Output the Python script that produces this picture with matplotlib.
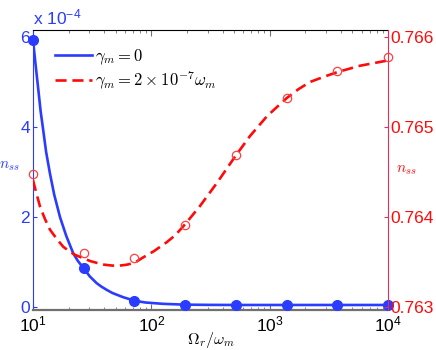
import numpy as np
import matplotlib
matplotlib.use("Agg")
import matplotlib.pyplot as plt
from matplotlib.ticker import LogLocator, NullFormatter

plt.rcParams['font.family'] = ['Liberation Sans', 'DejaVu Sans']
plt.rcParams['mathtext.fontset'] = 'cm'

# sample points (Omega_r / omega_m)
x_pts = [10, 26.8, 72.0, 193.1, 517.9, 1389.5, 3727.6, 10000]
# gamma_m = 0 (units of 1e-4)
blue_pts = [5.93, 0.87, 0.14, 0.055, 0.045, 0.045, 0.045, 0.045]
# gamma_m = 2e-7 omega_m
red_pts = [0.76448, 0.76360, 0.76354, 0.76391, 0.76469, 0.76532, 0.76562, 0.76578]

# continuous curves
blue_cx = [10, 10.5, 11.1, 11.6, 12.2, 12.9, 13.9, 15.1, 16.9, 19.1, 21.9, 24.0, 26.8, 30.2,
           34.5, 38.0, 42, 47, 57.5, 72, 89, 126, 193, 316, 518, 1389, 3728, 10000]
blue_cy = [5.93, 5.40, 4.82, 4.35, 3.93, 3.45, 2.97, 2.50, 2.00, 1.58, 1.19, 1.02, 0.86, 0.68,
           0.53, 0.45, 0.38, 0.31, 0.22, 0.14, 0.10, 0.07, 0.052, 0.047, 0.045, 0.045, 0.045, 0.045]

red_cx = [10, 10.7, 11.5, 12.6, 13.9, 15.8, 18, 20.2, 22.6, 26.8, 30.5, 34.7, 40, 47, 54, 62, 72,
          85, 105, 135, 160, 193, 257, 359, 509, 682, 949, 1389, 1750, 2188, 2900, 3728, 5760, 10000]
red_cy = [0.76441, 0.76426, 0.76411, 0.76398, 0.76386, 0.76376, 0.76367, 0.76362, 0.76358, 0.76354,
          0.76351, 0.76349, 0.76347, 0.76346, 0.76346, 0.76347, 0.76349,
          0.76355, 0.76362, 0.76372, 0.76380, 0.76392, 0.76412, 0.76438, 0.76467, 0.76490, 0.76512,
          0.76532, 0.76542, 0.76550, 0.76556, 0.76561, 0.76568, 0.76574]

BLUE = '#2a3cff'
RED = '#ff0a0a'
RSPINE = '#e0305a'

fig = plt.figure(figsize=(4.36, 3.5), dpi=100)
ax = fig.add_axes([33/436, 1-310/350, (388-33)/436, (310-30)/350])
ax2 = ax.twinx()

ax.set_xscale('log')
ax.set_xlim(10, 1e4)
ylo, yhi = -0.0667, 6.156
ax.set_ylim(ylo, yhi)
ax2.set_ylim(0.763 + ylo*0.0005, 0.763 + yhi*0.0005)

l1, = ax.plot(blue_cx, blue_cy, '-', color=BLUE, lw=1.9, zorder=3)
ax.plot(x_pts, blue_pts, 'o', color=BLUE, ms=7, zorder=4, clip_on=False)
l2, = ax2.plot(red_cx, red_cy, '--', color=RED, lw=1.9, dashes=(4.2, 2.2), zorder=3)
ax2.plot(x_pts, red_pts, 'o', mfc='none', mec='#ff4040', ms=6, mew=0.9, zorder=4, clip_on=False)

# spines
ax.spines['left'].set_color(BLUE)
ax.spines['right'].set_visible(False)
ax.spines['bottom'].set_color('#707070')
ax.spines['bottom'].set_linewidth(1.6)
ax.spines['top'].set_color('black')
ax2.spines['right'].set_color(RSPINE)
ax2.spines['left'].set_visible(False)
ax2.spines['top'].set_visible(False)
ax2.spines['bottom'].set_visible(False)

FS = 12.5
ax.set_yticks([0, 2, 4, 6])
ax.set_yticklabels(['0', '2', '4', '6'])
ax.tick_params(axis='y', colors=BLUE, direction='in', length=3, labelsize=FS, pad=2)
ax.tick_params(axis='x', which='both', direction='in', top=True, colors='#707070', labelcolor='black',
               labelsize=FS, pad=3)
ax.tick_params(axis='x', which='major', length=4)
ax.tick_params(axis='x', which='minor', length=2)
xt = [10, 100, 1000, 10000]
ax.set_xticks(xt)
ax.set_xticklabels([r'$\mathregular{10^{%d}}$' % int(np.log10(v)) for v in xt])
ax.xaxis.set_minor_locator(LogLocator(base=10, subs=np.arange(2, 10)))
ax.xaxis.set_minor_formatter(NullFormatter())

ax2.set_yticks([0.763, 0.764, 0.765, 0.766])
ax2.set_yticklabels(['0.763', '0.764', '0.765', '0.766'])
ax2.tick_params(axis='y', colors=RED, direction='in', length=3, labelsize=FS, pad=2)
ax2.tick_params(axis='y', color=RSPINE)

ax.text(0.0, 1.01, r'x $\mathregular{10^{-4}}$', transform=ax.transAxes, color=BLUE,
        fontsize=FS, ha='left', va='bottom')

ax.set_xlabel(r'$\Omega_r/\omega_m$', fontsize=11.5, labelpad=-3)
fig.text(9/436, 1-166/350, r'$n_{ss}$', color=BLUE, fontsize=11, ha='center', va='center')
fig.text(406/436, 1-170/350, r'$n_{ss}$', color=RED, fontsize=11, ha='center', va='center')

leg = ax.legend([l1, l2], [r'$\gamma_m=0$', r'$\gamma_m=2\times10^{-7}\omega_m$'],
                loc='upper left', frameon=False, fontsize=12, handlelength=2.2,
                bbox_to_anchor=(0.035, 0.975), borderaxespad=0.2, handletextpad=0.15, labelspacing=0.15)

fig.savefig('out.png', dpi=100)
